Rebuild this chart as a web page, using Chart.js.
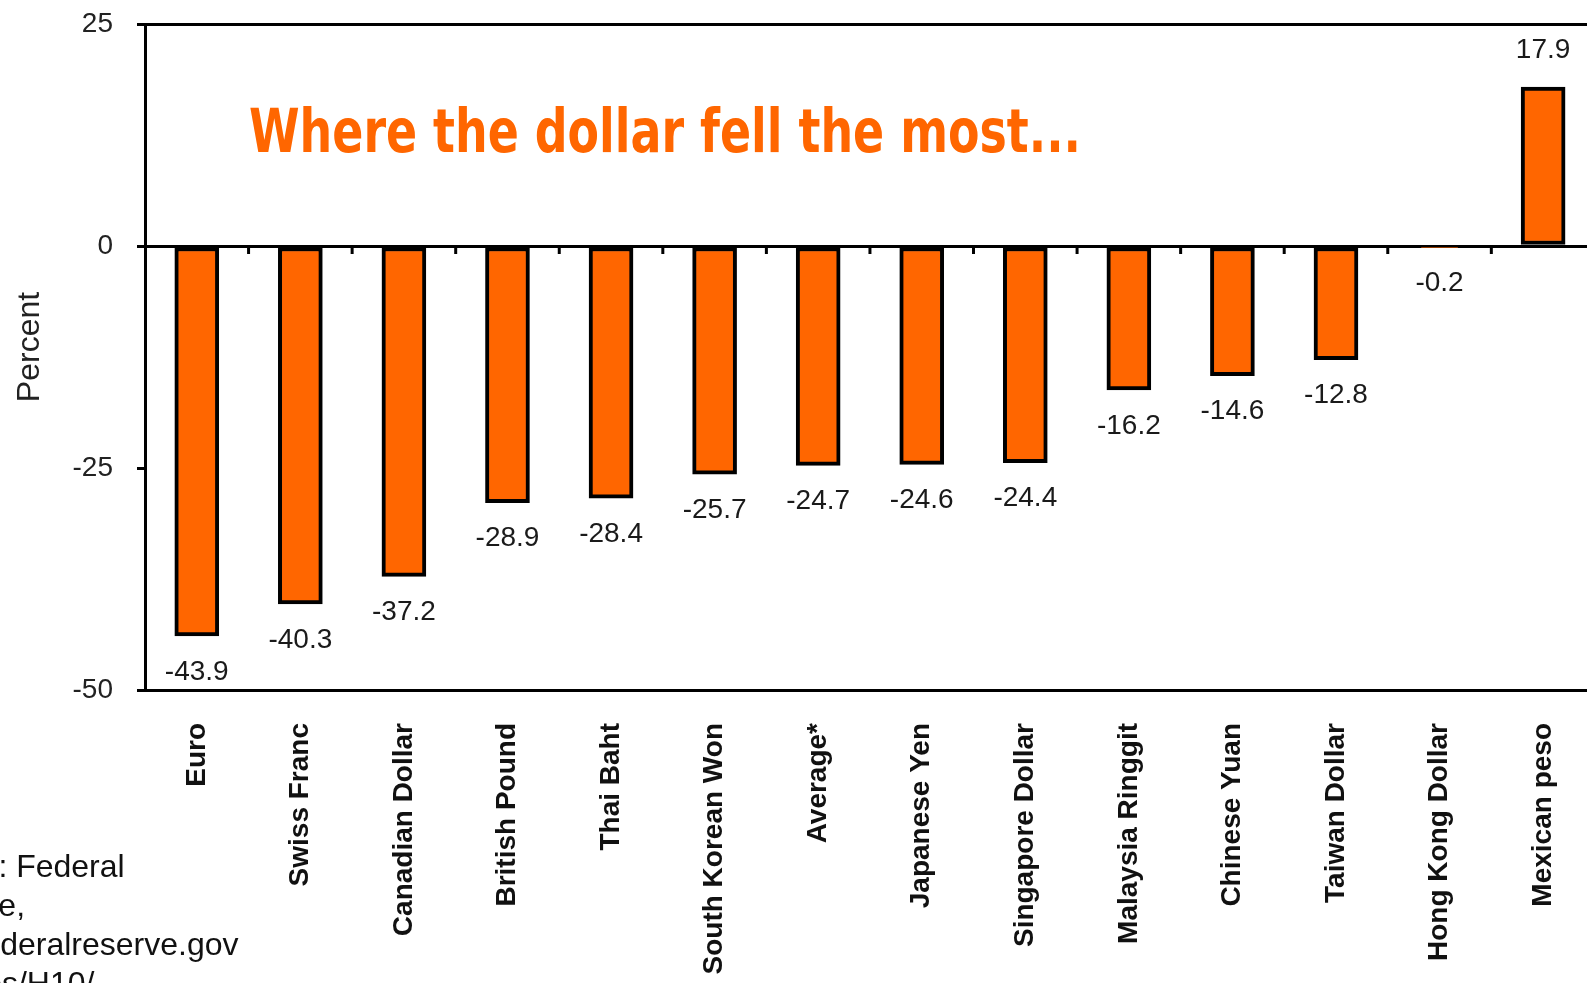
<!DOCTYPE html>
<html lang="en">
  <head>
    <meta charset="UTF-8">
    <script src="https://cdn.jsdelivr.net/npm/chart.js"></script>
    <style>
      html, body {
      margin: 0;
      padding: 0;
      background: #fff;
      overflow: hidden;
      }
      #wrap {
      position: relative;
      width: 1610px;
      height: 983px;
      }
    </style>
  </head>
  <body>
    <div id="wrap">
      <canvas id="fx" width="1610" height="983"></canvas>
    </div>
    <script>
      // currencies, percent change of the dollar against each
      const currencies = ['Euro', 'Swiss Franc', 'Canadian Dollar', 'British Pound', 'Thai Baht',
        'South Korean Won', 'Average*', 'Japanese Yen', 'Singapore Dollar', 'Malaysia Ringgit',
        'Chinese Yuan', 'Taiwan Dollar', 'Hong Kong Dollar', 'Mexican peso'];
      const changes = [-43.9, -40.3, -37.2, -28.9, -28.4, -25.7, -24.7, -24.6, -24.4, -16.2, -14.6, -12.8, -0.2, 17.9];
      const yTicks = [25, 0, -25, -50];

      const headline = 'Where the dollar fell the most...';
      const yTitle = 'Percent';
      const sourceLines = ['Source: Federal', 'Reserve,', 'www.federalreserve.gov', 'releases/H10/'];

      const orange = '#FF6600';

      // value labels + little ticks hanging under the zero line
      const barExtras = {
        id: 'barExtras',
        afterDatasetsDraw(chart) {
          const ctx = chart.ctx;
          const x = chart.scales.x;
          const y = chart.scales.y;
          const zeroY = y.getPixelForValue(0);

          ctx.save();
          ctx.strokeStyle = '#000';
          ctx.lineWidth = 3;
          for (let i = 1; i < currencies.length; i++) {
            const bx = (x.getPixelForValue(i - 1) + x.getPixelForValue(i)) / 2;
            ctx.beginPath();
            ctx.moveTo(bx, zeroY);
            ctx.lineTo(bx, zeroY + 8);
            ctx.stroke();
          }

          ctx.fillStyle = '#1a1a1a';
          ctx.font = '28px "Liberation Sans", Arial, sans-serif';
          ctx.textAlign = 'center';
          ctx.textBaseline = 'middle';
          chart.getDatasetMeta(0).data.forEach((bar, i) => {
            const v = changes[i];
            const ly = v < 0 ? bar.y + 36 : bar.y - 37;
            ctx.fillText(v.toFixed(1), bar.x, ly);
          });
          ctx.restore();
        }
      };

      // slide text: headline, axis title and the (cropped) source note
      const slideText = {
        id: 'slideText',
        afterDraw(chart) {
          const ctx = chart.ctx;
          ctx.save();
          ctx.fillStyle = orange;
          ctx.font = 'bold 60px "Liberation Sans Narrow", "Arial Narrow", "DejaVu Sans Condensed", sans-serif';
          ctx.textBaseline = 'alphabetic';
          const w = ctx.measureText(headline).width;
          ctx.translate(249, 152);
          ctx.scale(832 / w, 1);
          ctx.fillText(headline, 0, 0);
          ctx.restore();

          ctx.save();
          ctx.fillStyle = '#222';
          ctx.font = '32px "Liberation Sans", Arial, sans-serif';
          ctx.textAlign = 'center';
          ctx.textBaseline = 'middle';
          ctx.translate(30, 347);
          ctx.rotate(-Math.PI / 2);
          ctx.fillText(yTitle, 0, 0);
          ctx.restore();

          ctx.save();
          ctx.fillStyle = '#111';
          ctx.font = '32px "Liberation Sans", Arial, sans-serif';
          ctx.textAlign = 'left';
          ctx.textBaseline = 'alphabetic';
          sourceLines.forEach((line, i) => {
            ctx.fillText(line, -103, 877 + i * 39);
          });
          ctx.restore();
        }
      };

      const chart = new Chart(document.getElementById('fx'), {
        type: 'bar',
        data: {
          labels: currencies,
          datasets: [{
            data: changes,
            backgroundColor: orange,
            borderColor: '#000',
            borderWidth: 4,
            borderSkipped: false,
            barThickness: 44
          }]
        },
        options: {
          responsive: false,
          animation: false,
          layout: {
            padding: { top: 24, right: 8, bottom: 0, left: 0 }
          },
          plugins: {
            legend: { display: false },
            tooltip: { enabled: false }
          },
          scales: {
            x: {
              afterFit: (scale) => { scale.height = 293; },
              grid: { display: false, drawTicks: false },
              border: { display: true, color: '#000', width: 3 },
              ticks: {
                autoSkip: false,
                minRotation: 90,
                maxRotation: 90,
                padding: 33,
                color: '#111',
                font: { family: '"Liberation Sans", Arial, sans-serif', size: 28, weight: 'bold' }
              }
            },
            y: {
              min: -50,
              max: 25,
              afterFit: (scale) => {
                scale.width = 145;
                scale.paddingTop = 0;
                scale.paddingBottom = 0;
              },
              afterBuildTicks: (scale) => {
                scale.ticks = yTicks.map(v => ({ value: v }));
              },
              grid: {
                color: (c) => (c.tick && c.tick.value === -25) ? 'rgba(0,0,0,0)' : '#000',
                tickColor: '#000',
                lineWidth: 3,
                tickWidth: 3,
                tickLength: 8
              },
              border: { display: true, color: '#000', width: 3 },
              ticks: {
                padding: 24,
                color: '#222',
                font: { family: '"Liberation Sans", Arial, sans-serif', size: 28 }
              }
            }
          }
        },
        plugins: [barExtras, slideText]
      });
    </script>
  </body>
</html>
